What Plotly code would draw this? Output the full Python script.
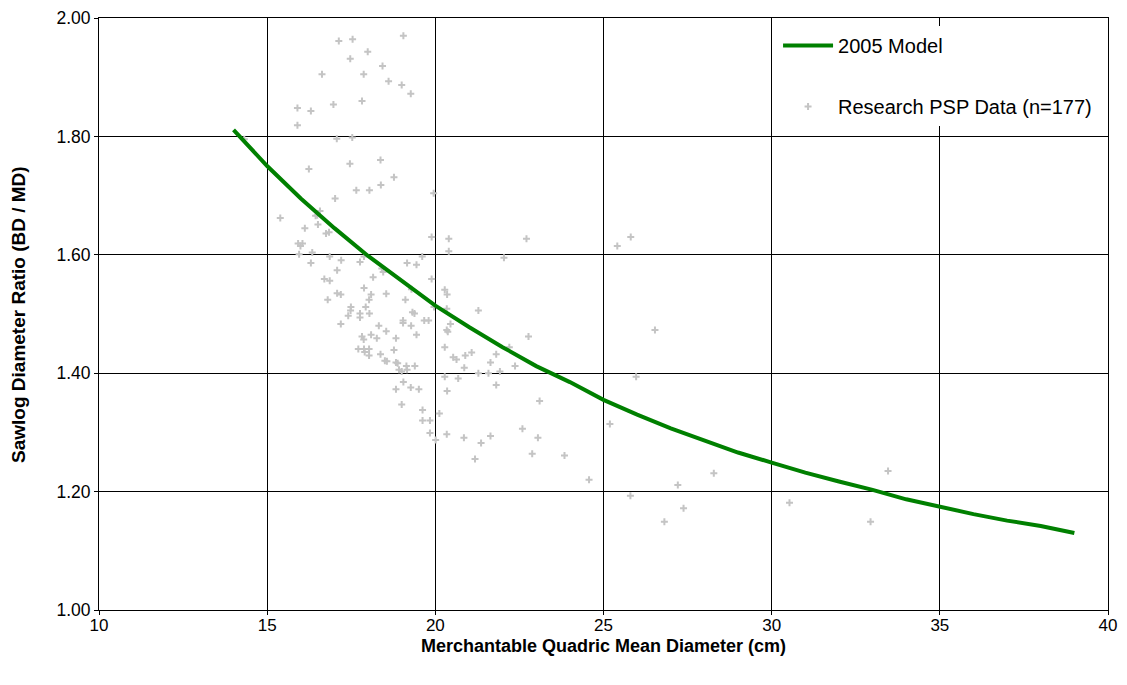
import plotly.graph_objects as go

# Model curve (2005 Model)
model_x = [14, 15, 16, 17, 18, 19, 20, 21, 22, 23, 24, 25, 26, 27, 28, 29, 30,
           31, 32, 33, 34, 35, 36, 37, 38, 39]
model_y = [1.811, 1.750, 1.695, 1.645, 1.598, 1.555, 1.514, 1.478, 1.444, 1.412,
           1.385, 1.355, 1.330, 1.307, 1.286, 1.266, 1.249, 1.232, 1.217, 1.203,
           1.187, 1.174, 1.162, 1.151, 1.142, 1.130]

# Research PSP data
psp_x = [17.13, 17.54, 19.05, 17.99, 17.47, 18.43, 16.63, 17.87, 18.61, 19.00,
         19.27, 15.90, 16.30, 16.97, 17.82, 15.90, 14.32, 17.07, 17.53, 16.24,
         17.46, 18.37, 18.77, 17.65, 18.04, 18.38, 17.02, 19.95, 15.39, 16.44,
         16.57, 16.51, 16.12, 16.84, 16.75, 15.92, 16.05, 15.99, 15.95, 16.34,
         16.86, 16.30, 17.20, 17.08, 16.70, 16.86, 16.80, 17.08, 17.19, 17.49,
         17.48, 17.41, 17.19, 17.76, 17.76, 17.93, 18.04, 18.03, 18.09, 17.88,
         17.76, 17.88, 18.15, 18.41, 18.45, 18.54, 19.16, 19.44, 19.61, 19.89,
         20.40, 20.40, 19.89, 19.29, 19.11, 19.32, 19.38, 19.04, 19.04, 19.28,
         19.67, 19.80, 19.96, 20.28, 20.35, 20.34, 20.34, 20.37, 20.45, 21.28,
         18.32, 18.54, 18.09, 18.26, 17.82, 17.87, 18.83, 19.44, 18.77, 18.37,
         17.71, 17.88, 18.03, 17.90, 18.03, 18.50, 18.56, 18.83, 18.88, 18.92,
         19.00, 19.14, 19.16, 19.39, 20.28, 20.53, 20.63, 20.89, 21.08, 20.86,
         20.68, 21.28, 20.28, 20.35, 19.05, 18.83, 19.27, 19.51, 19.00, 19.62,
         20.12, 19.62, 19.84, 19.84, 20.01, 20.34, 20.85, 21.36, 21.64, 21.18,
         22.59, 23.10, 23.05, 22.88, 23.84, 21.81, 22.71, 22.04, 22.77, 22.20,
         21.81, 21.64, 21.58, 21.92, 22.37, 25.41, 25.81, 26.53, 25.97, 25.19,
         24.57, 25.80, 26.81, 27.38, 27.21, 28.28, 30.53, 32.94, 33.46, 16.49]
psp_y = [1.961, 1.964, 1.970, 1.943, 1.931, 1.919, 1.905, 1.905, 1.893, 1.887,
         1.872, 1.848, 1.843, 1.854, 1.860, 1.819, 1.795, 1.796, 1.798, 1.745,
         1.754, 1.760, 1.731, 1.709, 1.709, 1.718, 1.695, 1.704, 1.662, 1.666,
         1.674, 1.651, 1.645, 1.638, 1.636, 1.619, 1.619, 1.615, 1.601, 1.604,
         1.597, 1.586, 1.591, 1.574, 1.559, 1.556, 1.524, 1.535, 1.533, 1.512,
         1.506, 1.497, 1.483, 1.501, 1.494, 1.512, 1.501, 1.524, 1.533, 1.544,
         1.588, 1.597, 1.562, 1.577, 1.571, 1.534, 1.586, 1.583, 1.597, 1.630,
         1.627, 1.606, 1.559, 1.542, 1.524, 1.503, 1.501, 1.489, 1.485, 1.480,
         1.489, 1.489, 1.512, 1.541, 1.533, 1.509, 1.473, 1.470, 1.483, 1.506,
         1.480, 1.471, 1.465, 1.459, 1.462, 1.457, 1.459, 1.465, 1.439, 1.432,
         1.441, 1.441, 1.441, 1.436, 1.430, 1.421, 1.420, 1.418, 1.417, 1.406,
         1.403, 1.412, 1.406, 1.412, 1.444, 1.427, 1.423, 1.430, 1.435, 1.409,
         1.391, 1.400, 1.394, 1.370, 1.385, 1.373, 1.376, 1.373, 1.347, 1.338,
         1.332, 1.320, 1.320, 1.299, 1.287, 1.297, 1.291, 1.282, 1.294, 1.255,
         1.306, 1.353, 1.291, 1.264, 1.261, 1.380, 1.627, 1.595, 1.462, 1.444,
         1.432, 1.418, 1.400, 1.403, 1.412, 1.615, 1.630, 1.473, 1.394, 1.314,
         1.220, 1.193, 1.149, 1.172, 1.211, 1.231, 1.181, 1.149, 1.235, 1.667]

x_ticks = [10, 15, 20, 25, 30, 35, 40]
y_ticks = [1.0, 1.2, 1.4, 1.6, 1.8, 2.0]
y_tick_labels = ["1.00", "1.20", "1.40", "1.60", "1.80", "2.00"]
x_title = "Merchantable Quadric Mean Diameter (cm)"
y_title = "Sawlog Diameter Ratio (BD / MD)"

FONT = "Liberation Sans, Arial"

fig = go.Figure()
fig.add_trace(go.Scatter(
    x=psp_x, y=psp_y, mode="markers", name="Research PSP Data (n=177)",
    legendgroup="b", legendrank=2,
    marker=dict(symbol="cross-thin", size=5, line=dict(color="#c4c4c4", width=2),
                color="#c4c4c4"),
))
fig.add_trace(go.Scatter(
    x=model_x, y=model_y, mode="lines", name="2005 Model",
    legendgroup="a", legendrank=1,
    line=dict(color="#008000", width=4),
))

axis_common = dict(
    showline=True, linecolor="black", linewidth=1, mirror=True,
    showgrid=True, gridcolor="black", gridwidth=1,
    ticks="outside", ticklen=4, tickcolor="black",
    zeroline=False, automargin=False,
)

fig.update_layout(
    width=1111, height=669,
    margin=dict(l=91, r=11, t=10, b=67),
    paper_bgcolor="white", plot_bgcolor="white",
    showlegend=True,
    legend=dict(
        x=0.673, y=0.9865, xanchor="left", yanchor="top",
        bgcolor="white", borderwidth=0,
        font=dict(family=FONT, size=20, color="black"),
        traceorder="grouped", tracegroupgap=32,
        itemwidth=50,
    ),
    xaxis=dict(range=[10, 40], tickvals=x_ticks, ticklabelstandoff=-4,
               tickfont=dict(family=FONT, size=17, color="black"), **axis_common),
    yaxis=dict(range=[1.0, 2.0], tickvals=y_ticks, ticktext=y_tick_labels,
               tickfont=dict(family=FONT, size=17.5, color="black"), **axis_common),
    annotations=[
        dict(text="<b>" + x_title + "</b>", xref="paper", yref="paper",
             x=0.5, y=-0.0608, xanchor="center", yanchor="middle", showarrow=False,
             font=dict(family=FONT, size=18, color="black")),
        dict(text="<b>" + y_title + "</b>", xref="paper", yref="paper",
             x=-0.0803, y=0.5, xanchor="center", yanchor="middle", showarrow=False,
             textangle=-90, font=dict(family=FONT, size=19, color="black")),
    ],
)

fig.write_html("out.html")
